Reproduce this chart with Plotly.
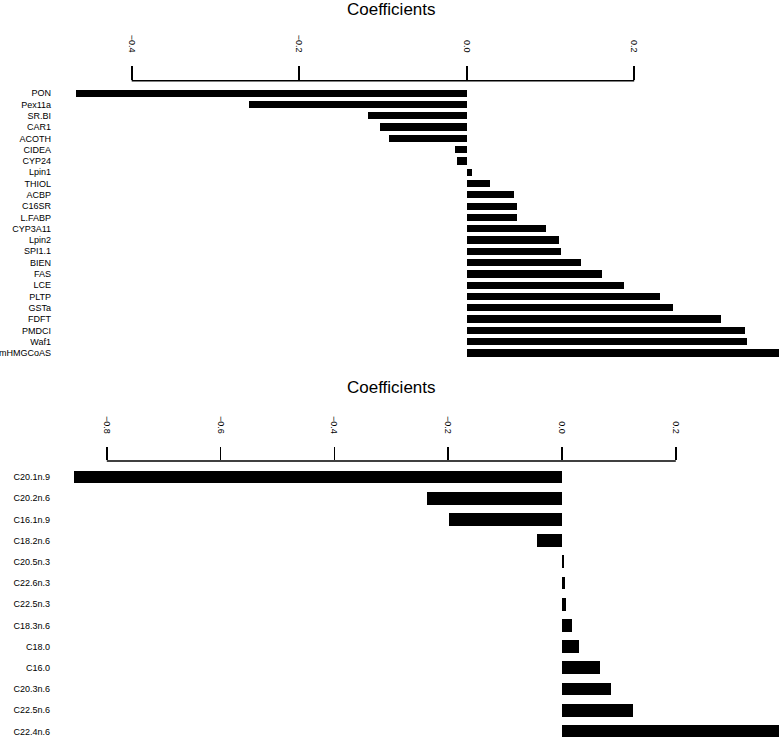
import plotly.graph_objects as go

# ---- data: top panel (genes) ----
genes = ["PON", "Pex11a", "SR.BI", "CAR1", "ACOTH", "CIDEA", "CYP24", "Lpin1",
         "THIOL", "ACBP", "C16SR", "L.FABP", "CYP3A11", "Lpin2", "SPI1.1", "BIEN",
         "FAS", "LCE", "PLTP", "GSTa", "FDFT", "PMDCI", "Waf1", "mHMGCoAS"]
gene_coef = [-0.467, -0.260, -0.118, -0.103, -0.093, -0.014, -0.012, 0.006,
             0.028, 0.056, 0.060, 0.060, 0.095, 0.110, 0.113, 0.136,
             0.161, 0.188, 0.231, 0.246, 0.304, 0.332, 0.335, 0.40]

# ---- data: bottom panel (lipids) ----
lipids = ["C20.1n.9", "C20.2n.6", "C16.1n.9", "C18.2n.6", "C20.5n.3", "C22.6n.3",
          "C22.5n.3", "C18.3n.6", "C18.0", "C16.0", "C20.3n.6", "C22.5n.6", "C22.4n.6"]
lipid_coef = [-0.857, -0.238, -0.198, -0.044, 0.004, 0.0045,
              0.007, 0.017, 0.030, 0.067, 0.086, 0.124, 0.42]

top_ticks = [-0.4, -0.2, 0.0, 0.2]
bot_ticks = [-0.8, -0.6, -0.4, -0.2, 0.0, 0.2]

W, H = 779, 737
FONT = "Liberation Sans, Arial, Helvetica, sans-serif"

fig = go.Figure()
fig.add_trace(go.Bar(x=gene_coef, y=list(range(len(genes))), orientation="h",
                     marker=dict(color="black", line=dict(width=0)), width=0.64,
                     xaxis="x", yaxis="y", showlegend=False))
fig.add_trace(go.Bar(x=lipid_coef, y=list(range(len(lipids))), orientation="h",
                     marker=dict(color="black", line=dict(width=0)), width=0.6,
                     xaxis="x2", yaxis="y2", showlegend=False))

left_px = 55
xdom = [left_px / W, 1]

# top panel geometry
top_px, topbot_px = 80.7, 360
zero1, ppu1 = 466.7, 837.5
sp1 = 11.77
y1_top = -(93.7 - top_px) / sp1
y1_bot = (len(genes) - 1) + (topbot_px - 352.7) / sp1

# bottom panel geometry
top2_px, bot2_px = 461, 737
zero2, ppu2 = 562, 569
sp2 = 21.2
y2_top = -(477 - top2_px) / sp2
y2_bot = (len(lipids) - 1) + (bot2_px - (477 + 12 * sp2)) / sp2

axis_common = dict(side="top", ticks="outside", tickwidth=1.6, tickcolor="black",
                   showgrid=False, zeroline=False, showline=False, tickangle=90,
                   tickformat=".1f", tickfont=dict(family=FONT, size=9, color="black"),
                   ticklabelstandoff=10, automargin=False, fixedrange=True)

fig.update_layout(
    width=W, height=H, margin=dict(l=0, r=0, t=0, b=0),
    paper_bgcolor="white", plot_bgcolor="white", bargap=0,
    xaxis=dict(domain=xdom, anchor="y",
               range=[(left_px - zero1) / ppu1, (W - zero1) / ppu1],
               tickvals=top_ticks, ticklen=14, **axis_common),
    yaxis=dict(domain=[1 - topbot_px / H, 1 - top_px / H], anchor="x",
               range=[y1_bot, y1_top], tickvals=list(range(len(genes))), ticktext=genes,
               ticks="", showgrid=False, zeroline=False, showline=False, ticklabelstandoff=3,
               tickfont=dict(family=FONT, size=9, color="black"), automargin=False),
    xaxis2=dict(domain=xdom, anchor="y2",
                range=[(left_px - zero2) / ppu2, (W - zero2) / ppu2],
                tickvals=bot_ticks, ticklen=13, **axis_common),
    yaxis2=dict(domain=[0, 1 - top2_px / H], anchor="x2",
                range=[y2_bot, y2_top], tickvals=list(range(len(lipids))), ticktext=lipids,
                ticks="", showgrid=False, zeroline=False, showline=False, ticklabelstandoff=4,
                tickfont=dict(family=FONT, size=9, color="black"), automargin=False),
    shapes=[
        dict(type="line", xref="x", yref="paper", x0=top_ticks[0], x1=top_ticks[-1],
             y0=1 - top_px / H, y1=1 - top_px / H, line=dict(color="black", width=1.6)),
        dict(type="line", xref="x2", yref="paper", x0=bot_ticks[0], x1=bot_ticks[-1],
             y0=1 - top2_px / H, y1=1 - top2_px / H, line=dict(color="black", width=1.6)),
    ],
    annotations=[
        dict(text="Coefficients", xref="paper", yref="paper", x=391.7 / W, y=1 - 9.5 / H,
             xanchor="center", yanchor="middle", showarrow=False,
             font=dict(family=FONT, size=17, color="black")),
        dict(text="Coefficients", xref="paper", yref="paper", x=391.7 / W, y=1 - 387 / H,
             xanchor="center", yanchor="middle", showarrow=False,
             font=dict(family=FONT, size=17, color="black")),
    ],
)

fig.write_html("out.html", config={"displayModeBar": False, "staticPlot": True},
               post_script="document.body.style.margin='0';document.body.style.overflow='hidden';")
